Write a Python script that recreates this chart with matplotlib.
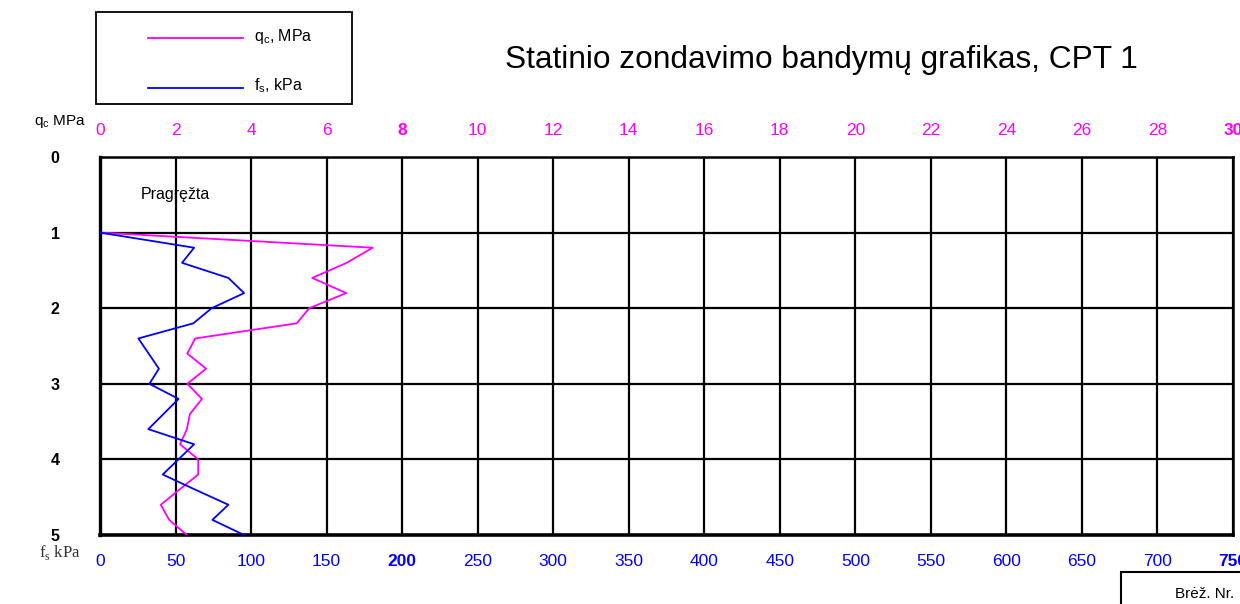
import matplotlib
matplotlib.use("Agg")
import matplotlib.pyplot as plt
from matplotlib.patches import Rectangle
from matplotlib.lines import Line2D

plt.rcParams['font.family'] = ['Liberation Sans', 'DejaVu Sans']

depth = [1.0, 1.2, 1.4, 1.6, 1.8, 2.0, 2.2, 2.4, 2.6, 2.8, 3.0, 3.2, 3.4, 3.6,
         3.8, 4.0, 4.2, 4.4, 4.6, 4.8, 5.0]
qc_mpa = [0.0, 7.22, 6.53, 5.62, 6.52, 5.54, 5.21, 2.52, 2.31, 2.81, 2.31, 2.70,
          2.38, 2.30, 2.12, 2.60, 2.60, 2.10, 1.61, 1.83, 2.30]
fs_kpa = [0.0, 62.3, 54.3, 85.0, 95.4, 73.9, 61.8, 25.4, 32.2, 39.0, 32.7, 52.0,
          42.0, 32.0, 62.3, 51.9, 41.5, 63.0, 85.0, 74.4, 95.4]

qc_ticks = list(range(0, 31, 2))
fs_ticks = list(range(0, 751, 50))
depth_ticks = [0, 1, 2, 3, 4, 5]

W, H = 1240, 604
fig = plt.figure(figsize=(W / 100, H / 100), dpi=100)
ax = fig.add_axes([100 / W, 1 - 535 / H, (1233 - 100) / W, (535 - 157) / H])
ax2 = ax.twiny()

ax.set_xlim(0, 30)
ax.set_ylim(5, 0)
ax.plot(qc_mpa, depth, color='#ff00ff', lw=1.3, zorder=5)

# grid
for x in qc_ticks:
    ax.axvline(x, color='black', lw=1.6, zorder=2)
for y in depth_ticks:
    ax.axhline(y, color='black', lw=1.6, zorder=2)
for s in ax.spines.values():
    s.set_linewidth(1.8)
ax.spines['bottom'].set_linewidth(2.6)
ax.spines['left'].set_linewidth(2.4)

ax.xaxis.tick_top()
ax.xaxis.set_label_position('top')
ax.set_xticks(qc_ticks)
ax.set_xticklabels([str(v) for v in qc_ticks], color='#ff00ff', fontsize=12.5)
ax.tick_params(axis='x', length=0, pad=14, labeltop=True, labelbottom=False)
ax.set_yticks(depth_ticks)
ax.set_yticklabels([str(v) for v in depth_ticks], fontsize=11.5, fontweight='bold')
ax.tick_params(axis='y', length=0, pad=29)
for lbl in ax.get_xticklabels():
    if lbl.get_text() in ('8', '30'):
        lbl.set_fontweight('bold')

ax2.set_xlim(0, 750)
ax2.plot(fs_kpa, depth, color='#0000ff', lw=1.3, zorder=6)
ax2.xaxis.tick_bottom()
ax2.set_xticks(fs_ticks)
ax2.set_xticklabels([str(v) for v in fs_ticks], color='#0000ff', fontsize=12.5)
ax2.tick_params(axis='x', length=0, pad=14, labelbottom=True, labeltop=False)
for lbl in ax2.get_xticklabels():
    if lbl.get_text() in ('200', '750'):
        lbl.set_fontweight('bold')
for s in ax2.spines.values():
    s.set_visible(False)

ax.text(2.0, 0.5, 'Pragręžta', fontsize=11.5, ha='center', va='center')

fig.text(60 / W, 1 - 122 / H, 'q$_\\mathregular{c}$ MPa', fontsize=11, ha='center', va='center')
fig.text(60 / W, 1 - 553 / H, 'f$_\\mathregular{s}$ kPa', fontsize=12, ha='center', va='center',
         family='Liberation Serif', color='#333333')

fig.text(821 / W, 1 - 60 / H, 'Statinio zondavimo bandymų grafikas, CPT 1', fontsize=22.8,
         ha='center', va='center')

# legend box
fig.patches.append(Rectangle((96 / W, 1 - 104 / H), (352 - 96) / W, (104 - 12) / H,
                             transform=fig.transFigure, fill=False, ec='black', lw=1.3))
fig.lines.append(Line2D([148 / W, 243 / W], [1 - 38 / H, 1 - 38 / H], transform=fig.transFigure,
                        color='#ff00ff', lw=1.3))
fig.lines.append(Line2D([148 / W, 243 / W], [1 - 88 / H, 1 - 88 / H], transform=fig.transFigure,
                        color='#0000ff', lw=1.3))
fig.text(254 / W, 1 - 36 / H, 'q$_\\mathregular{c}$, MPa', fontsize=11.5, va='center')
fig.text(254 / W, 1 - 86 / H, 'f$_\\mathregular{s}$, kPa', fontsize=11.5, va='center')

# drawing number box
fig.patches.append(Rectangle((1121 / W, -0.05), 200 / W, (604 - 572) / H + 0.05,
                             transform=fig.transFigure, fill=False, ec='black', lw=1.5))
fig.text(1175 / W, 1 - 594 / H, 'Brėž. Nr.', fontsize=11, va='center')

fig.savefig('out.png', dpi=100)
